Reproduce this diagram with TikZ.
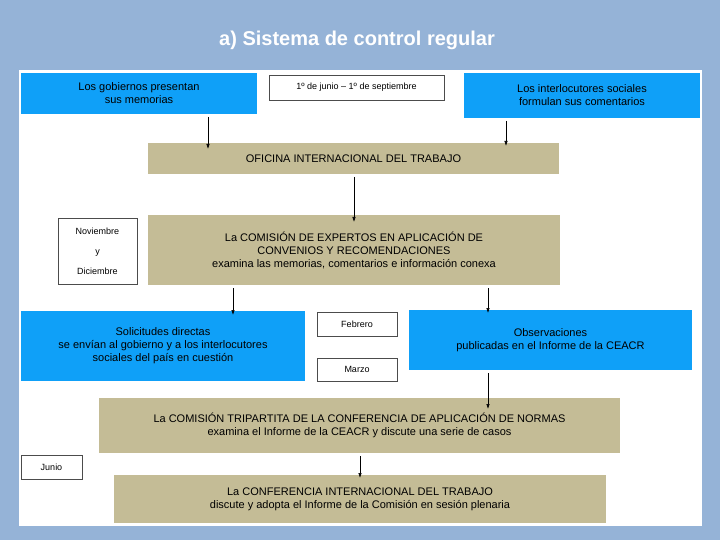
\documentclass[tikz,border=0pt]{standalone}
\usepackage{fontspec}
\setmainfont{Liberation Sans}
\usetikzlibrary{arrows.meta}
\definecolor{bgblue}{HTML}{95B3D7}
\definecolor{boxblue}{HTML}{0FA0F8}
\definecolor{tan}{HTML}{C4BC96}
\begin{document}
\begin{tikzpicture}[x=1pt,y=-1pt,
  bx/.style={anchor=north west,inner sep=0pt,outer sep=0pt,align=center,font=\fontsize{11}{13}\selectfont},
  blu/.style={bx,fill=boxblue},
  tn/.style={bx,fill=tan},
  wb/.style={bx,fill=white,draw=black!70,line width=0.6pt,font=\fontsize{9}{12}\selectfont},
  arr/.style={-{Latex[length=5pt,width=3.5pt]},line width=0.6pt,shorten <=3pt}]
\fill[bgblue] (0,0) rectangle (720,540);
\useasboundingbox (0,0) rectangle (720,540);
\fill[white] (19,70) rectangle (702,526);
\node[font=\fontsize{20}{24}\selectfont\bfseries,text=white] (title) at (357,40) {a) Sistema de control regular};
\node[blu,minimum width=236pt,minimum height=41pt] (gov) at (21,73) {Los gobiernos presentan\\sus memorias};
\node[wb,minimum width=175pt,minimum height=25pt] (date) at (269,75) {1º de junio – 1º de septiembre};
\node[blu,minimum width=236pt,minimum height=45pt] (soc) at (464,73) {Los interlocutores sociales\\formulan sus comentarios};
\node[tn,minimum width=411pt,minimum height=31pt] (oit) at (148,143) {OFICINA INTERNACIONAL DEL TRABAJO};
\node[tn,minimum width=412pt,minimum height=70pt] (ceacr) at (148,215) {La COMISIÓN DE EXPERTOS EN APLICACIÓN DE\\CONVENIOS Y RECOMENDACIONES\\examina las memorias, comentarios e información conexa};
\node[wb,minimum width=79pt,minimum height=66pt,font=\fontsize{9}{20}\selectfont] (nov) at (58,218) {Noviembre\\y\\Diciembre};
\node[blu,minimum width=284pt,minimum height=70pt] (sol) at (21,311) {Solicitudes directas\\se envían al gobierno y a los interlocutores\\sociales del país en cuestión};
\node[wb,minimum width=80pt,minimum height=24pt] (feb) at (317,312) {Febrero};
\node[wb,minimum width=80pt,minimum height=23pt] (mar) at (317,358) {Marzo};
\node[blu,minimum width=283pt,minimum height=60pt] (obs) at (409,310) {Observaciones\\publicadas en el Informe de la CEACR};
\node[tn,minimum width=521pt,minimum height=55pt] (tri) at (99,398) {La COMISIÓN TRIPARTITA DE LA CONFERENCIA DE APLICACIÓN DE NORMAS\\examina el Informe de la CEACR y discute una serie de casos};
\node[wb,minimum width=61pt,minimum height=24pt] (jun) at (21,455) {Junio};
\node[tn,minimum width=492pt,minimum height=48pt] (cit) at (114,475) {La CONFERENCIA INTERNACIONAL DEL TRABAJO\\discute y adopta el Informe de la Comisión en sesión plenaria};
\coordinate (xa) at (208,0);
\coordinate (xb) at (506,0);
\coordinate (xc) at (354,0);
\coordinate (xd) at (233,0);
\coordinate (xe) at (488,0);
\coordinate (xf) at (360,0);
\draw[arr] (gov.south -| xa) -- ([yshift=-6pt]oit.north -| xa);
\draw[arr] (soc.south -| xb) -- ([yshift=-3pt]oit.north -| xb);
\draw[arr] (oit.south -| xc) -- ([yshift=-7pt]ceacr.north -| xc);
\draw[arr] (ceacr.south -| xd) -- ([yshift=-4pt]sol.north -| xd);
\draw[arr] (ceacr.south -| xe) -- ([yshift=-3pt]obs.north -| xe);
\draw[arr] (obs.south -| xe) -- ([yshift=-11pt]tri.north -| xe);
\draw[arr] (tri.south -| xf) -- ([yshift=-3pt]cit.north -| xf);
\end{tikzpicture}
\end{document}
